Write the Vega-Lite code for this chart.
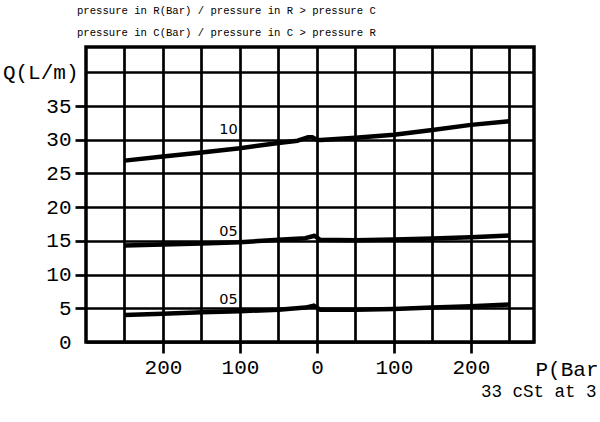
{
  "$schema": "https://vega.github.io/schema/vega-lite/v6.json",
  "autosize": {"type": "none"},
  "width": 448,
  "height": 295,
  "padding": {"left": 86, "top": 47, "right": 66, "bottom": 80},
  "background": "white",
  "config": {
    "view": {"stroke": "black", "strokeWidth": 3.5},
    "font": "Liberation Mono"
  },
  "title": {
    "text": ["pressure in R(Bar) / pressure in R > pressure C", "pressure in C(Bar) / pressure in C > pressure R"],
    "font": "Liberation Mono",
    "fontSize": 10.6,
    "fontWeight": "normal",
    "color": "black",
    "anchor": "start",
    "frame": "group",
    "dx": -9,
    "lineHeight": 22,
    "offset": 8
  },
  "datasets": {
    "curves": [
      {"series": "A", "p": -250, "q": 26.9},
      {"series": "A", "p": -200, "q": 27.5},
      {"series": "A", "p": -150, "q": 28.1},
      {"series": "A", "p": -100, "q": 28.75},
      {"series": "A", "p": -50, "q": 29.5},
      {"series": "A", "p": -25, "q": 29.85},
      {"series": "A", "p": -12, "q": 30.35},
      {"series": "A", "p": -6, "q": 30.35},
      {"series": "A", "p": 0, "q": 30.0},
      {"series": "A", "p": 5, "q": 29.95},
      {"series": "A", "p": 50, "q": 30.3},
      {"series": "A", "p": 100, "q": 30.75},
      {"series": "A", "p": 150, "q": 31.45},
      {"series": "A", "p": 200, "q": 32.2},
      {"series": "A", "p": 250, "q": 32.75},
      {"series": "B", "p": -250, "q": 14.3},
      {"series": "B", "p": -200, "q": 14.45},
      {"series": "B", "p": -150, "q": 14.6},
      {"series": "B", "p": -100, "q": 14.8},
      {"series": "B", "p": -50, "q": 15.15},
      {"series": "B", "p": -15, "q": 15.4},
      {"series": "B", "p": -3, "q": 15.75},
      {"series": "B", "p": 4, "q": 15.15},
      {"series": "B", "p": 50, "q": 15.1},
      {"series": "B", "p": 100, "q": 15.2},
      {"series": "B", "p": 150, "q": 15.35},
      {"series": "B", "p": 200, "q": 15.55},
      {"series": "B", "p": 250, "q": 15.8},
      {"series": "C", "p": -250, "q": 4.0},
      {"series": "C", "p": -200, "q": 4.2},
      {"series": "C", "p": -150, "q": 4.4},
      {"series": "C", "p": -100, "q": 4.55},
      {"series": "C", "p": -50, "q": 4.8},
      {"series": "C", "p": -15, "q": 5.1},
      {"series": "C", "p": -4, "q": 5.4},
      {"series": "C", "p": 4, "q": 4.8},
      {"series": "C", "p": 50, "q": 4.8},
      {"series": "C", "p": 100, "q": 4.9},
      {"series": "C", "p": 150, "q": 5.1},
      {"series": "C", "p": 200, "q": 5.3},
      {"series": "C", "p": 250, "q": 5.55}
    ],
    "labels": [
      {"p": -115, "q": 31.4, "label": "10"},
      {"p": -115, "q": 16.3, "label": "05"},
      {"p": -115, "q": 6.3, "label": "05"}
    ],
    "notes": [
      {"p": 282, "q": 0, "label": "33 cSt at 3"}
    ]
  },
  "encoding": {
    "x": {
      "field": "p",
      "type": "quantitative",
      "scale": {"domain": [-300, 282], "nice": false, "zero": false},
      "axis": {
        "values": [-250, -200, -150, -100, -50, 0, 50, 100, 150, 200, 250],
        "grid": true,
        "gridColor": "black",
        "gridOpacity": 1,
        "gridWidth": 2.7,
        "domain": false,
        "ticks": true,
        "tickSize": 11,
        "tickWidth": 2.7,
        "tickColor": "black",
        "tickOpacity": {"condition": {"test": "datum.value % 100 == 0", "value": 1}, "value": 0},
        "labelExpr": "datum.value % 100 == 0 ? '' + abs(datum.value) : ''",
        "labelFont": "Liberation Mono",
        "labelFontSize": 21,
        "labelColor": "black",
        "labelPadding": 3,
        "labelFlush": false,
        "labelOverlap": false,
        "title": "P(Bar",
        "titleFont": "Liberation Mono",
        "titleFontSize": 21,
        "titleFontWeight": "normal",
        "titleColor": "black",
        "titleAlign": "left",
        "titleBaseline": "middle",
        "titleX": 449,
        "titleY": 27
      }
    },
    "y": {
      "field": "q",
      "type": "quantitative",
      "scale": {"domain": [0, 43.75], "nice": false, "zero": false},
      "axis": {
        "values": [0, 5, 10, 15, 20, 25, 30, 35, 40],
        "grid": true,
        "gridColor": "black",
        "gridOpacity": 1,
        "gridWidth": 2.7,
        "domain": false,
        "ticks": true,
        "tickSize": 11,
        "tickWidth": 2.7,
        "tickColor": "black",
        "tickOpacity": {"condition": {"test": "datum.value > 0 && datum.value < 40", "value": 1}, "value": 0},
        "labelExpr": "datum.value == 40 ? 'Q(L/m)' : datum.label",
        "labelFont": "Liberation Mono",
        "labelFontSize": 21,
        "labelColor": "black",
        "labelPadding": {"condition": {"test": "datum.value == 40", "value": -3}, "value": 4},
        "labelFlush": false,
        "labelOverlap": false,
        "title": null
      }
    }
  },
  "layer": [
    {
      "data": {"name": "curves"},
      "mark": {"type": "line", "color": "black", "strokeWidth": 4.5, "strokeJoin": "round", "strokeCap": "butt"},
      "encoding": {"detail": {"field": "series"}}
    },
    {
      "data": {"name": "labels"},
      "mark": {"type": "text", "font": "DejaVu Sans", "fontSize": 14.5, "color": "black", "align": "center", "baseline": "middle"},
      "encoding": {"text": {"field": "label"}}
    },
    {
      "data": {"name": "notes"},
      "mark": {"type": "text", "font": "Liberation Mono", "fontSize": 17.5, "color": "black", "align": "left", "baseline": "middle", "dx": -53, "dy": 50, "clip": false},
      "encoding": {"text": {"field": "label"}}
    }
  ]
}
